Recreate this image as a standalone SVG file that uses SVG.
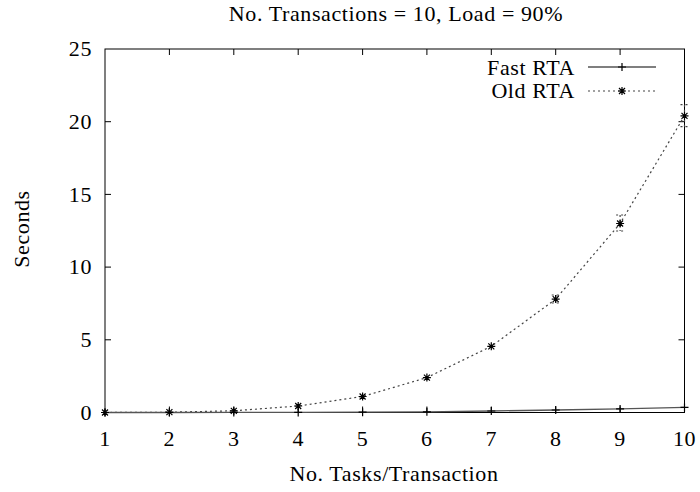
<svg xmlns="http://www.w3.org/2000/svg" width="700" height="492" viewBox="0 0 700 492" font-family="'Liberation Serif', 'Times New Roman', serif" font-size="22">
<style>
.t{font-family:"Liberation Serif","Times New Roman",serif;font-size:22px;letter-spacing:0.6px;fill:#000}
.tick{stroke:#000;stroke-width:1}
.fast{fill:none;stroke:#555;stroke-width:1.3}
.old{fill:none;stroke:#444;stroke-width:1.2;stroke-dasharray:2,3}
.pt{stroke:#000;stroke-width:1.2;fill:none}
</style>
<defs>
<path id="plus" d="M-4,0H4M0,-4V4" class="pt"/>
<path id="star" d="M-4,0H4M0,-4V4M-3,-3L3,3M-3,3L3,-3" class="pt"/>
</defs>
<rect width="700" height="492" fill="#fff"/>
<text class="t" x="396" y="21" text-anchor="middle">No. Transactions = 10, Load = 90%</text>
<g id="axes">
<rect x="105" y="49" width="579.5" height="363.5" fill="none" stroke="#000" stroke-width="1"/>
<path class="tick" d="M105,339.8h6M105,267.1h6M105,194.4h6M105,121.7h6M684.5,339.8h-6M684.5,267.1h-6M684.5,194.4h-6M684.5,121.7h-6"/>
<path class="tick" d="M169.4,412.5v-6M233.8,412.5v-6M298.2,412.5v-6M362.6,412.5v-6M426.9,412.5v-6M491.3,412.5v-6M555.7,412.5v-6M620.1,412.5v-6M169.4,49v6M233.8,49v6M298.2,49v6M362.6,49v6M426.9,49v6M491.3,49v6M555.7,49v6M620.1,49v6"/>
<g text-anchor="end">
<text class="t" x="92" y="420">0</text>
<text class="t" x="92" y="347">5</text>
<text class="t" x="92" y="274">10</text>
<text class="t" x="92" y="202">15</text>
<text class="t" x="92" y="129">20</text>
<text class="t" x="92" y="56">25</text>
</g>
<g text-anchor="middle">
<text class="t" x="105" y="446">1</text>
<text class="t" x="169.4" y="446">2</text>
<text class="t" x="233.8" y="446">3</text>
<text class="t" x="298.2" y="446">4</text>
<text class="t" x="362.6" y="446">5</text>
<text class="t" x="426.9" y="446">6</text>
<text class="t" x="491.3" y="446">7</text>
<text class="t" x="555.7" y="446">8</text>
<text class="t" x="620.1" y="446">9</text>
<text class="t" x="684.5" y="446">10</text>
</g>
<text class="t" x="394" y="481" text-anchor="middle">No. Tasks/Transaction</text>
<text class="t" transform="translate(29,229) rotate(-90)" text-anchor="middle">Seconds</text>
</g>
<g id="legend">
<text class="t" x="575" y="75" text-anchor="end">Fast RTA</text>
<path class="fast" d="M588,67H656"/>
<use href="#plus" x="622" y="67"/>
<text class="t" x="575" y="98" text-anchor="end">Old RTA</text>
<path class="old" d="M588,91H656"/>
<use href="#star" x="622" y="91"/>
</g>
<g id="old-rta">
<path class="old" d="M105,412.5L169.4,412.2L233.8,410.8L298.2,406L362.6,396.5L426.9,377.6L491.3,346.3L555.7,299.1L620.1,223.5L684.5,115.9"/>
<path class="old" d="M555.7,295V303M551.7,295H559.7M551.7,303H559.7M620.1,215V231M616.1,215H624.1M616.1,231H624.1M684.5,104.7V126.7M680.5,104.7H688.5M680.5,126.7H688.5"/>
<use href="#star" x="105" y="412.5"/>
<use href="#star" x="169.4" y="412.2"/>
<use href="#star" x="233.8" y="410.8"/>
<use href="#star" x="298.2" y="406"/>
<use href="#star" x="362.6" y="396.5"/>
<use href="#star" x="426.9" y="377.6"/>
<use href="#star" x="491.3" y="346.3"/>
<use href="#star" x="555.7" y="299.1"/>
<use href="#star" x="620.1" y="223.5"/>
<use href="#star" x="684.5" y="115.9"/>
</g>
<g id="fast-rta">
<path class="fast" d="M105,412.5L169.4,412.5L233.8,412.4L298.2,412.4L362.6,412.2L426.9,411.8L491.3,411L555.7,410L620.1,408.9L684.5,407.4"/>
<use href="#plus" x="105" y="412.5"/>
<use href="#plus" x="169.4" y="412.5"/>
<use href="#plus" x="233.8" y="412.4"/>
<use href="#plus" x="298.2" y="412.4"/>
<use href="#plus" x="362.6" y="412.2"/>
<use href="#plus" x="426.9" y="411.8"/>
<use href="#plus" x="491.3" y="411"/>
<use href="#plus" x="555.7" y="410"/>
<use href="#plus" x="620.1" y="408.9"/>
<use href="#plus" x="684.5" y="407.4"/>
</g>
</svg>
